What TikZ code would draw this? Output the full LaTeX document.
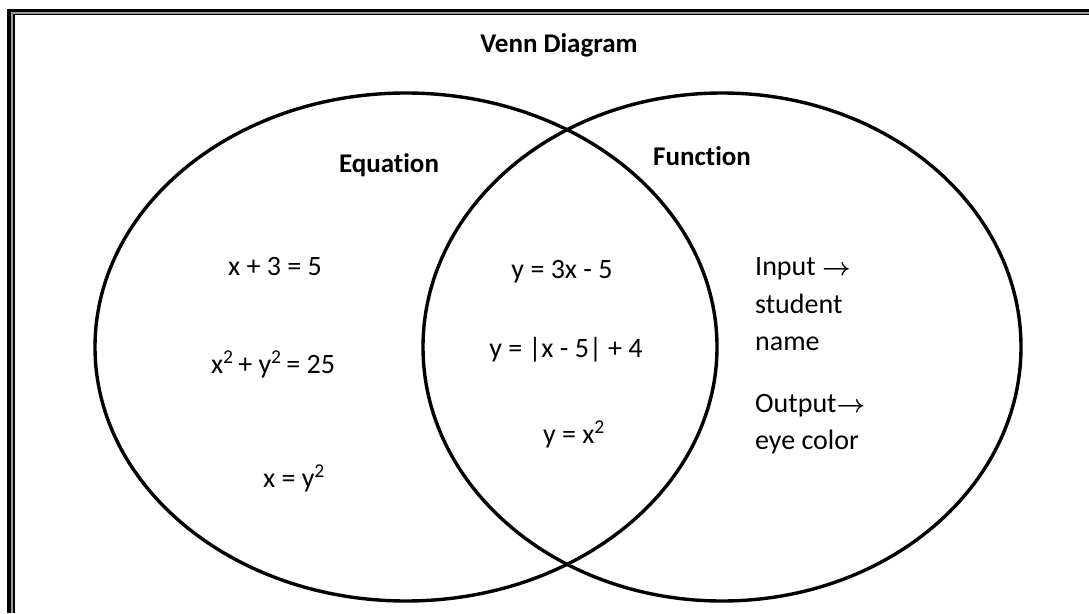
\documentclass[tikz,border=0pt]{standalone}
\usepackage{fontspec}
\setmainfont[Ligatures=NoCommon]{Carlito}
\newcommand{\rarr}{{\fontsize{32}{34}\selectfont\boldmath$\rightarrow$}}
\begin{document}
\begin{tikzpicture}[x=1pt,y=-1pt,
  lbl/.style={inner sep=0pt,font=\fontsize{28}{33}\selectfont},
  ttl/.style={inner sep=0pt,font=\fontsize{27}{32}\selectfont\bfseries},
  set/.style={line width=3.4pt,draw=black}]
\useasboundingbox (0,0) rectangle (1089,613);
% frame (top and left visible)
\fill[black] (7.3,9) rectangle (1089,12.3);
\fill[black] (7.3,9) rectangle (11,613);
\fill[gray!80] (11,12.3) rectangle (1089,13.6);
\fill[gray!80] (11,12.3) rectangle (13,613);
\fill[black] (13,13.6) rectangle (1089,15);
\fill[black] (13,13.6) rectangle (14.5,613);
% sets
\draw[set] (406,347) ellipse [x radius=311, y radius=254];
\draw[set] (722,347) ellipse [x radius=299, y radius=254];
% texts
\node[ttl,anchor=base] (title) at (559,52) {Venn Diagram};
\node[ttl,anchor=base] (eq) at (389,172) {Equation};
\node[ttl,anchor=base west] (fn) at (653,165) {Function};
\node[lbl,anchor=base] (e1) at (275,275) {x + 3 = 5};
\node[lbl,anchor=base] (e2) at (273,373) {x\textsuperscript{2}\,+ y\textsuperscript{2}\,= 25};
\node[lbl,anchor=base] (e3) at (294,487) {x = y\textsuperscript{2}};
\node[lbl,anchor=base] (b1) at (562,278) {y = 3x - 5};
\node[lbl,anchor=base] (b2) at (566,357) {y = |x - 5| + 4};
\node[lbl,anchor=base] (b3) at (574,443) {y = x\textsuperscript{2}};
\node[lbl,anchor=base west] (f1) at (755,275) {Input \rarr};
\node[lbl,anchor=base west] (f2) at (755,313) {student};
\node[lbl,anchor=base west] (f3) at (755,350) {name};
\node[lbl,anchor=base west] (f4) at (755,412) {Output\rarr};
\node[lbl,anchor=base west] (f5) at (755,449) {eye color};
\end{tikzpicture}
\end{document}
